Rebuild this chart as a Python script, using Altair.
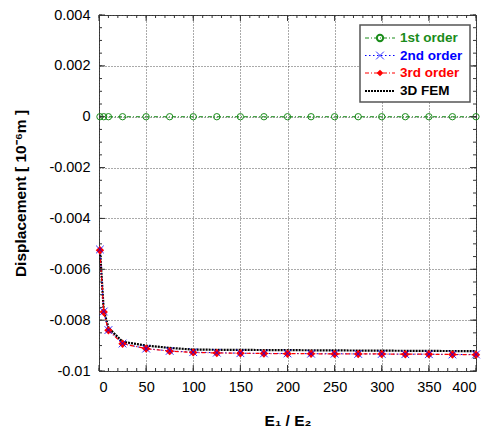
import altair as alt
import pandas as pd

# E1/E2 ratios at which the displacement was evaluated
ratio = [1, 5, 10, 25, 50, 75, 100, 125, 150, 175, 200, 225, 250, 275, 300, 325, 350, 375, 400]

# displacement in 1e-6 m
first_order = [0.0] * 19
second_order = [-0.00522, -0.00766, -0.00839, -0.00892, -0.00912, -0.00921, -0.00926, -0.00928,
                -0.00930, -0.00931, -0.00931, -0.00932, -0.00932, -0.00933, -0.00933, -0.00934,
                -0.00934, -0.00935, -0.00935]
third_order = [-0.00525, -0.00768, -0.00840, -0.00893, -0.00912, -0.00922, -0.00927, -0.00929,
               -0.00930, -0.00931, -0.00932, -0.00932, -0.00933, -0.00933, -0.00933, -0.00934,
               -0.00934, -0.00935, -0.00936]
fem_ratio = [1, 5, 10, 25, 50, 75, 100, 150, 200, 250, 300, 350, 400]
fem_disp = [-0.00520, -0.00760, -0.00830, -0.00885, -0.00900, -0.00909, -0.00916, -0.00917,
            -0.00918, -0.00919, -0.00920, -0.00921, -0.00922]

# axis tick positions
x_major = [0, 50, 100, 150, 200, 250, 300, 350, 400]
x_minor = [0, 10, 20, 30, 40, 50, 60, 70, 80, 90, 100, 110, 120, 130, 140, 150, 160, 170, 180, 190,
           200, 210, 220, 230, 240, 250, 260, 270, 280, 290, 300, 310, 320, 330, 340, 350, 360, 370,
           380, 390, 400]
y_major = [-0.01, -0.008, -0.006, -0.004, -0.002, 0.0, 0.002, 0.004]
y_minor = [-0.01, -0.0095, -0.009, -0.0085, -0.008, -0.0075, -0.007, -0.0065, -0.006, -0.0055,
           -0.005, -0.0045, -0.004, -0.0035, -0.003, -0.0025, -0.002, -0.0015, -0.001, -0.0005,
           0.0, 0.0005, 0.001, 0.0015, 0.002, 0.0025, 0.003, 0.0035, 0.004]

series_names = ["1st order", "2nd order", "3rd order", "3D FEM"]
series_colors = ["#1a8c1a", "#0000ff", "#ff0000", "#000000"]

W, H = 377, 356
FONT = "Liberation Sans"

xs = alt.Scale(domain=[0, 400], nice=False, zero=False)
ys = alt.Scale(domain=[-0.01, 0.004], nice=False, zero=False)

X_AXIS = alt.Axis(values=x_major, title="E\u2081 / E\u2082", ticks=False, domain=False,
                  labelPadding=9, titlePadding=20, grid=True)
Y_AXIS = alt.Axis(values=y_major, title="Displacement [ 10\u207b\u2076m ]", ticks=False,
                  domain=False, labelPadding=9, titlePadding=20, grid=True,
                  labelExpr="datum.value == 0 ? '0' : toString(round(datum.value * 1000) / 1000)")


def X(field):
    return alt.X(field, scale=xs, axis=X_AXIS)


def Y(field):
    return alt.Y(field, scale=ys, axis=Y_AXIS)


rows = []
for name, vals in [("1st order", first_order), ("2nd order", second_order),
                   ("3rd order", third_order)]:
    for r, v in zip(ratio, vals):
        rows.append({"ratio": r, "disp": v, "series": name})
for r, v in zip(fem_ratio, fem_disp):
    rows.append({"ratio": r, "disp": v, "series": "3D FEM"})
df = pd.DataFrame(rows)


def series(name):
    return alt.Chart(df).transform_filter(alt.datum.series == name).encode(
        x=X("ratio:Q"), y=Y("disp:Q"))


line1 = series("1st order").mark_line(color=series_colors[0], strokeWidth=1,
                                       strokeDash=[4, 2, 1, 2])
line_fem = series("3D FEM").mark_line(color="#000000", strokeWidth=2.2, strokeDash=[2, 1])
line2 = series("2nd order").mark_line(color=series_colors[1], strokeWidth=1,
                                      strokeDash=[1.5, 2.5])
line3 = series("3rd order").mark_line(color=series_colors[2], strokeWidth=1.2,
                                      strokeDash=[4, 2, 1, 2])

XSHAPE = "M-1,-1L1,1M-1,1L1,-1"
pts1 = series("1st order").mark_point(shape="circle", filled=False, size=40,
                                      color=series_colors[0], strokeWidth=1, opacity=1)
pts3 = series("3rd order").mark_point(shape="diamond", filled=True, size=70,
                                      color=series_colors[2], opacity=1)
pts2 = series("2nd order").mark_point(shape=XSHAPE, filled=False, size=60,
                                      color=series_colors[1], strokeWidth=0.8, opacity=1)


# inward tick marks on all four sides
def xticks(vals, length):
    d = pd.DataFrame({"v": vals})
    b = alt.Chart(d).mark_rule(color="#333333", strokeWidth=1).encode(x=X("v:Q"))
    return [b.encode(y=alt.value(H), y2=alt.value(H - length)),
            b.encode(y=alt.value(0), y2=alt.value(length))]


def yticks(vals, length):
    d = pd.DataFrame({"v": vals})
    b = alt.Chart(d).mark_rule(color="#333333", strokeWidth=1).encode(y=Y("v:Q"))
    return [b.encode(x=alt.value(0), x2=alt.value(length)),
            b.encode(x=alt.value(W), x2=alt.value(W - length))]


tick_layers = xticks(x_minor, 3) + xticks(x_major, 6) + yticks(y_minor, 3) + yticks(y_major, 6)

# legend box
one = pd.DataFrame({"k": [0]})
LX0, LX1, LY0, LY1 = 261, 371, 10, 87
legend_layers = [alt.Chart(one).mark_rect(fill="white", stroke="#555555", strokeWidth=1.5).encode(
    x=alt.value(LX0), x2=alt.value(LX1), y=alt.value(LY0), y2=alt.value(LY1))]

entry_y = [23, 40.5, 58, 76]
dashes = [[4, 2, 1, 2], [1.5, 2.5], [4, 2, 1, 2], [2, 1]]
widths = [1, 1, 1.2, 2.2]
for i, name in enumerate(series_names):
    yy = entry_y[i]
    legend_layers.append(
        alt.Chart(one).mark_rule(color=series_colors[i], strokeWidth=widths[i],
                                 strokeDash=dashes[i]).encode(
            x=alt.value(266), x2=alt.value(296), y=alt.value(yy)))
    legend_layers.append(
        alt.Chart(one).mark_text(text=name, color=series_colors[i], font=FONT,
                                 fontWeight="bold", fontSize=13.5, align="left",
                                 baseline="middle").encode(
            x=alt.value(301), y=alt.value(yy)))
legend_layers.append(alt.Chart(one).mark_point(shape="circle", filled=False, size=40,
                                               color=series_colors[0], opacity=1).encode(
    x=alt.value(281), y=alt.value(entry_y[0])))
legend_layers.append(alt.Chart(one).mark_point(shape=XSHAPE, filled=False, size=60,
                                               color=series_colors[1], strokeWidth=0.8,
                                               opacity=1).encode(
    x=alt.value(281), y=alt.value(entry_y[1])))
legend_layers.append(alt.Chart(one).mark_point(shape="diamond", filled=True, size=45,
                                               color=series_colors[2], opacity=1).encode(
    x=alt.value(281), y=alt.value(entry_y[2])))

chart = alt.layer(
    line1, line_fem, line2, line3, pts1, pts3, pts2, *tick_layers, *legend_layers
).properties(
    width=W, height=H,
    autosize=alt.AutoSizeParams(type="none"),
    padding={"left": 99, "top": 15, "right": 14, "bottom": 61},
    background="white",
).configure_view(
    stroke="#333333", strokeWidth=1
).configure_axis(
    labelFont=FONT, labelFontSize=14.5, labelColor="#000000",
    titleFont=FONT, titleFontSize=15.5, titleFontWeight="bold", titleColor="#000000",
    gridColor="#555555", gridDash=[1, 2], gridWidth=1, gridOpacity=1,
)

chart.save("out.html", embed_options={"renderer": "svg", "actions": False})
